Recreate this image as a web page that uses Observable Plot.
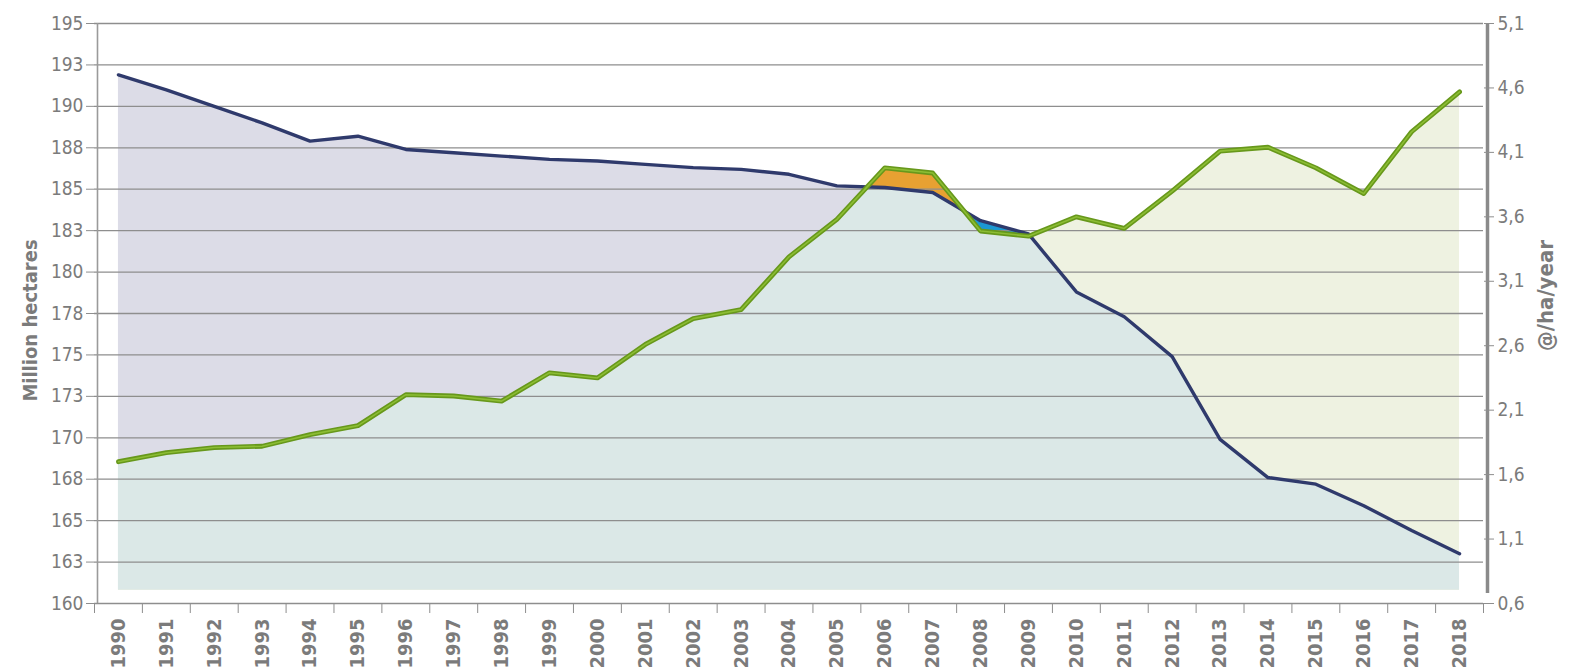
<!DOCTYPE html>
<html>
<head>
<meta charset="utf-8">
<script src="https://cdn.jsdelivr.net/npm/d3@7"></script>
<script src="https://cdn.jsdelivr.net/npm/@observablehq/plot@0.6"></script>
<style>
  html, body { margin: 0; padding: 0; background: #fff; }
  #chart svg { display: block; }
</style>
</head>
<body>
<div id="chart"></div>
<script>
// ---- data ----
const years = [1990, 1991, 1992, 1993, 1994, 1995, 1996, 1997, 1998, 1999,
  2000, 2001, 2002, 2003, 2004, 2005, 2006, 2007, 2008, 2009,
  2010, 2011, 2012, 2013, 2014, 2015, 2016, 2017, 2018];
// Million hectares (left axis)
const forest = [191.9, 191.0, 190.0, 189.0, 187.9, 188.2, 187.4, 187.2, 187.0, 186.8,
  186.7, 186.5, 186.3, 186.2, 185.9, 185.2, 185.1, 184.8, 183.1, 182.3,
  178.8, 177.3, 174.9, 169.9, 167.6, 167.2, 165.9, 164.4, 163.0];
// @/ha/year (right axis)
const price = [1.70, 1.77, 1.81, 1.82, 1.91, 1.98, 2.22, 2.21, 2.17, 2.39,
  2.35, 2.61, 2.81, 2.88, 3.29, 3.58, 3.98, 3.94, 3.49, 3.45,
  3.60, 3.51, 3.80, 4.11, 4.14, 3.98, 3.78, 4.26, 4.57];
const leftTicks = [160, 162.5, 165, 167.5, 170, 172.5, 175, 177.5, 180, 182.5, 185, 187.5, 190, 192.5, 195];
const leftTickLabels = ["160", "163", "165", "168", "170", "173", "175", "178", "180", "183", "185", "188", "190", "193", "195"];
const rightTicks = [0.6, 1.1, 1.6, 2.1, 2.6, 3.1, 3.6, 4.1, 4.6, 5.1];
const rightTickLabels = ["0,6", "1,1", "1,6", "2,1", "2,6", "3,1", "3,6", "4,1", "4,6", "5,1"];
const orangeSpan = [2005, 2008];
const blueSpan = [2007, 2010];
const leftLabel = "Million hectares";
const rightLabel = "@/ha/year";

// ---- scales mapping ----
const leftDomain = [160, 195];
const rightDomain = [0.6, 5.1];
const toLeft = v => leftDomain[0] + (v - rightDomain[0]) * (leftDomain[1] - leftDomain[0]) / (rightDomain[1] - rightDomain[0]);
const base = 160.8;
const highlightBase = 176;

const rows = years.map((year, i) => ({year, forest: forest[i], priceL: toLeft(price[i])}));
const orangeRows = rows.filter(d => d.year >= orangeSpan[0] && d.year <= orangeSpan[1]);
const blueRows = rows.filter(d => d.year >= blueSpan[0] && d.year <= blueSpan[1]);
const boundaries = [years[0] - 0.5, ...years.map(y => y + 0.5)];
const leftMap = new Map(leftTicks.map((t, i) => [t, leftTickLabels[i]]));
const rightVals = rightTicks.map(toLeft);
const rightMap = new Map(rightVals.map((t, i) => [t, rightTickLabels[i]]));
const x0 = boundaries[0], x1 = boundaries[boundaries.length - 1];

const font = "'DejaVu Sans Condensed', 'DejaVu Sans', sans-serif";
const grey = "#7b7b7b";

const plot = Plot.plot({
  width: 1595,
  height: 671,
  marginLeft: 94,
  marginRight: 112,
  marginTop: 23,
  marginBottom: 68,
  x: {type: "linear", domain: [x0, x1]},
  y: {domain: leftDomain},
  style: {fontFamily: font, color: grey, background: "#fff", overflow: "visible"},
  marks: [
    Plot.areaY(rows, {x: "year", y1: base, y2: "forest", fill: "#dcdce7"}),
    Plot.areaY(rows, {x: "year", y1: base, y2: "priceL", fill: "#eef2e1"}),
    Plot.areaY(orangeRows, {x: "year", y1: highlightBase, y2: "priceL", fill: "#e7a132"}),
    Plot.areaY(blueRows, {x: "year", y1: highlightBase, y2: "forest", fill: "#1b98d3"}),
    Plot.areaY(rows, {x: "year", y1: base, y2: "forest", fill: "#dbe8e7"}),
    Plot.ruleY(leftTicks, {x1: x0, x2: x1, stroke: "#8e8e8e", strokeWidth: 1.3}),
    Plot.ruleX([x0], {y1: leftDomain[0], y2: leftDomain[1], stroke: "#9a9a9a", strokeWidth: 1.6, dx: 3}),
    Plot.ruleX([x1], {y1: leftDomain[0], y2: leftDomain[1], stroke: "#8a8a8a", strokeWidth: 3.5, dx: 4, insetTop: -10}),
    Plot.axisY({ticks: leftTicks, tickFormat: d => leftMap.get(d), tickSize: 8, tickPadding: 3, fontSize: 19, stroke: "#8e8e8e", label: null}),
    Plot.axisY({ticks: rightVals, anchor: "right", tickFormat: d => rightMap.get(d), tickSize: 10, tickPadding: 4, fontSize: 19, stroke: "#8e8e8e", label: null}),
    Plot.axisX({ticks: boundaries, tickSize: 10, tickFormat: () => "", stroke: "#8e8e8e", label: null}),
    Plot.axisX({ticks: years, tickSize: 0, tickPadding: 15, tickRotate: -90, tickFormat: d => String(d), fontSize: 20, fontWeight: 600, label: null}),
    Plot.line(rows, {x: "year", y: "forest", stroke: "#2f3a6c", strokeWidth: 3.4}),
    Plot.line(rows, {x: "year", y: "priceL", stroke: "#67981b", strokeWidth: 4.8}),
    Plot.line(rows, {x: "year", y: "priceL", stroke: "#8cbd34", strokeWidth: 1.6}),
    Plot.text([leftLabel], {frameAnchor: "left", textAnchor: "middle", rotate: -90, dx: -64, dy: 7, fontSize: 20, fontWeight: 600, fill: grey}),
    Plot.text([rightLabel], {frameAnchor: "right", textAnchor: "middle", rotate: -90, dx: 62, dy: -18, fontSize: 22, fontWeight: 600, fill: grey})
  ]
});

// clip the overlap area (5th area mark) to the region under the green series (2nd area mark)
const svg = d3.select(plot);
const areas = svg.selectAll('g[aria-label="area"]').nodes();
if (areas.length >= 5) {
  const greenD = d3.select(areas[1]).select("path").attr("d");
  const defs = svg.insert("defs", ":first-child");
  defs.append("clipPath").attr("id", "under-green").append("path").attr("d", greenD);
  d3.select(areas[4]).attr("clip-path", "url(#under-green)");
}

document.getElementById("chart").appendChild(plot);
</script>
</body>
</html>
